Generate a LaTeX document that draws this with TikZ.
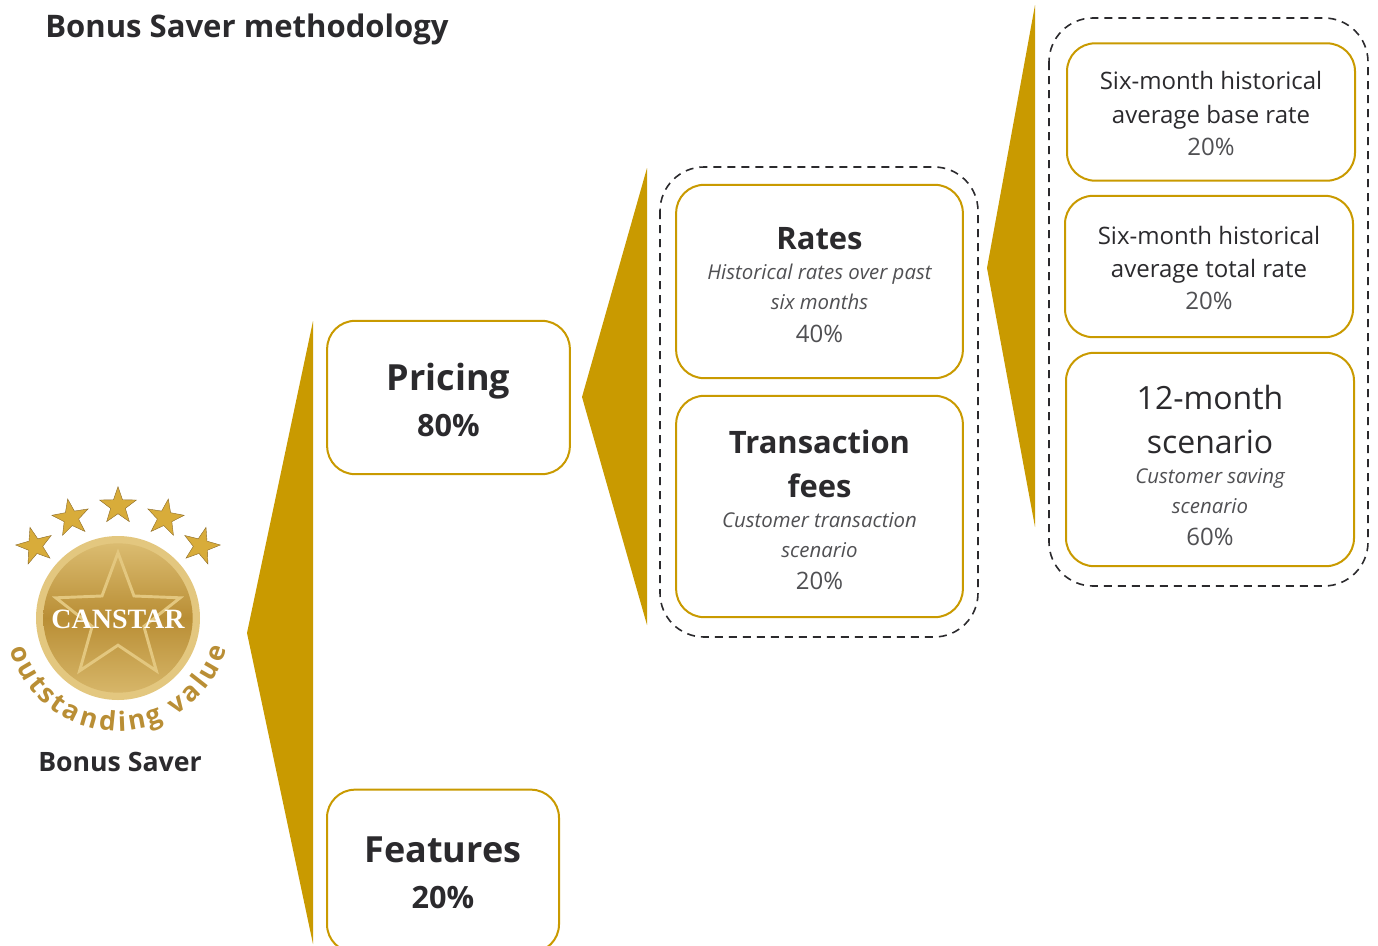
\documentclass[tikz,border=0pt]{standalone}
\usepackage{fontspec}
\setmainfont{Open Sans}
\newfontfamily\logofont{Liberation Serif}
\usetikzlibrary{shapes.geometric,decorations.text}
\definecolor{gold}{HTML}{C99A00}
\definecolor{ink}{HTML}{2B2A2D}
\definecolor{pale}{HTML}{505053}
\definecolor{medal}{HTML}{B98E35}
\definecolor{medallight}{HTML}{E3C77F}
\definecolor{stargold}{HTML}{D8AC3A}
\newcommand{\px}[1]{\fontsize{#1}{0}\selectfont}
\newcommand{\row}[1]{\rule[-7pt]{0pt}{#1pt}}
\newcommand{\headline}[2][23.2]{\color{ink}\upshape\bfseries\px{#1}#2}
\newcommand{\share}[1]{\color{ink}\upshape\bfseries\px{23}#1}
\newcommand{\plainline}[2][18]{\color{ink}\mdseries\upshape\px{#1}#2}
\newcommand{\note}[1]{\color{pale}\mdseries\itshape\px{15.3}#1}
\newcommand{\weight}[1]{\color{pale}\mdseries\upshape\px{18}#1}
\newcommand{\tightrows}{\lineskip=0pt\relax\lineskiplimit=0pt\relax}
\tikzset{
  card/.style={draw=gold,line width=1.5pt,rounded corners=21pt,fill=white,align=center,inner sep=0pt,font=\tightrows},
  group/.style={draw=ink,line width=1.2pt,dash pattern=on 6pt off 4.5pt,rounded corners=33pt},
  wedge/.style={fill=gold,draw=none},
  topstar/.style={star,star points=5,star point ratio=2.5,inner sep=0pt,minimum size=29pt,fill=stargold,draw=medal!75!black,line width=.3pt},
  x=.75pt,y=-.75pt
}
\begin{document}
\begin{tikzpicture}
\clip (0,0) rectangle (1378,946);
\node[anchor=west,text=ink,inner sep=0pt] (title) at (45,29) {\bfseries\px{23.3}Bonus Saver methodology};

% medal
\foreach \n/\sx/\sy/\tilt in {a/35/546/15,b/71/518/10,c/118/506/0,d/165/518/-10,e/201/546/-15}
  \node[topstar,shape border rotate=\tilt] (star\n) at (\sx,\sy) {};
\node[circle,minimum size=123pt,inner sep=0pt,fill=medallight] (ring) at (118,618) {};
\node[circle,minimum size=112pt,inner sep=0pt,top color=medallight!80!medal,bottom color=medallight!70!medal,middle color=medal] (disc) at (118,618) {};
\node[star,star points=5,star point ratio=2.4,minimum size=98pt,inner sep=0pt,draw=medallight,line width=2.2pt] (bigstar) at (118,618) {};
\node[text=white] (canstar) at (118,619) {\logofont\bfseries\px{21}CANSTAR};
\path[decorate,decoration={text along path,text align=fit to path,
  text={|\bfseries\px{20}\color{medal}|outstanding value}}]
  (9.4,649.1) arc[start angle=164,end angle=16,radius=113];
\node[text=ink] (saver) at (120,762) {\bfseries\px{20}Bonus Saver};

% wedges
\fill[wedge] (313,321) -- (247,633) -- (313,944) -- cycle;
\fill[wedge] (647,168) -- (582,397) -- (647,625) -- cycle;
\fill[wedge] (1035,5) -- (987,268) -- (1035,527) -- cycle;

% groups
\draw[group] (660,167) rectangle (978,637);
\draw[group] (1049,18) rectangle (1368,586);

% first level
\node[card,minimum width=182pt,minimum height=115pt] (pricing) at (448.5,397.5)
  {\row{38.7}\headline[27]{Pricing}\\ \row{34.5}\share{80\%}};
\node[card,minimum width=174pt,minimum height=122pt] (features) at (443,871)
  {\row{35}\headline[27]{Features}\\ \row{34.5}\share{20\%}};

% second level
\node[card,minimum width=215pt,minimum height=145pt] (rates) at (819.5,281.5)
  {\row{35.7}\headline{Rates}\\ \row{23}\note{Historical rates over past}\\ \row{22}\note{six months}\\ \row{25}\weight{40\%}};
\node[card,minimum width=215pt,minimum height=166pt] (fees) at (819.5,506.5)
  {\row{36.5}\headline{Transaction}\\ \row{33}\headline{fees}\\ \row{22.5}\note{Customer transaction}\\ \row{22.5}\note{scenario}\\ \row{24.5}\weight{20\%}};

% third level
\node[card,minimum width=216pt,minimum height=103pt] (base) at (1211,112)
  {\row{29.7}\plainline{Six-month historical}\\ \row{25}\plainline{average base rate}\\ \row{24}\weight{20\%}};
\node[card,minimum width=216pt,minimum height=106pt] (total) at (1209,266.5)
  {\row{29}\plainline{Six-month historical}\\ \row{24.75}\plainline{average total rate}\\ \row{24}\weight{20\%}};
\node[card,minimum width=216pt,minimum height=160pt] (saving) at (1210,459.5)
  {\row{41}\plainline[24]{12-month}\\ \row{33}\plainline[24]{scenario}\\ \row{22.5}\note{Customer saving}\\ \row{22.5}\note{scenario}\\ \row{24.5}\weight{60\%}};
\end{tikzpicture}
\end{document}
